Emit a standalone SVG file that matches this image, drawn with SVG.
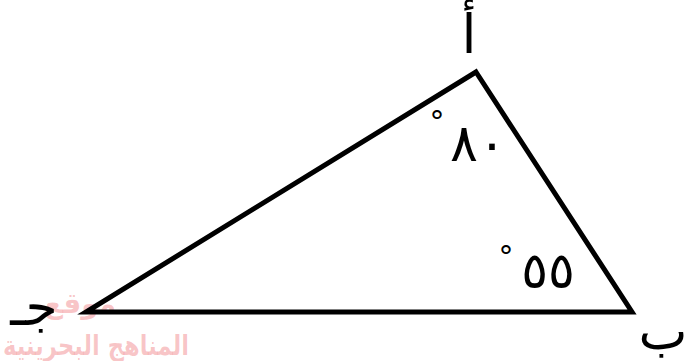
<svg xmlns="http://www.w3.org/2000/svg" width="686" height="361" viewBox="0 0 686 361">
<style>
.lbl{font-family:"DejaVu Sans","Noto Sans",sans-serif;fill:#000}
.wm{font-family:"DejaVu Sans",sans-serif;fill:#e8343a;fill-opacity:0.28;font-weight:bold}
</style>
<rect width="686" height="361" fill="#fff"/>
<g id="watermark">
<text class="wm" x="80" y="313" font-size="28" text-anchor="middle" direction="rtl">موقع</text>
<text class="wm" x="96" y="355" font-size="28" text-anchor="middle" direction="rtl" textLength="186" lengthAdjust="spacingAndGlyphs">المناهج البحرينية</text>
</g>
<g id="connectors">
<polygon points="476,72 632,312 86,312" fill="none" stroke="#000" stroke-width="5" stroke-linejoin="miter"/>
</g>
<g id="A"><text class="lbl" x="469" y="53" font-size="54" text-anchor="middle">أ</text></g>
<g id="B"><text class="lbl" x="663" y="349" font-size="52" text-anchor="middle">ب</text></g>
<g id="C"><text class="lbl" x="34" y="325" font-size="52" text-anchor="middle">جـ</text></g>
<g id="angleA">
<text class="lbl" x="437" y="132" font-size="30" text-anchor="middle">°</text>
<text class="lbl" x="478" y="161" font-size="52" text-anchor="middle" direction="ltr">٨٠</text>
</g>
<g id="angleB">
<text class="lbl" x="506" y="267" font-size="30" text-anchor="middle">°</text>
<text class="lbl" x="548" y="288" font-size="50" text-anchor="middle" direction="ltr">٥٥</text>
</g>
</svg>
